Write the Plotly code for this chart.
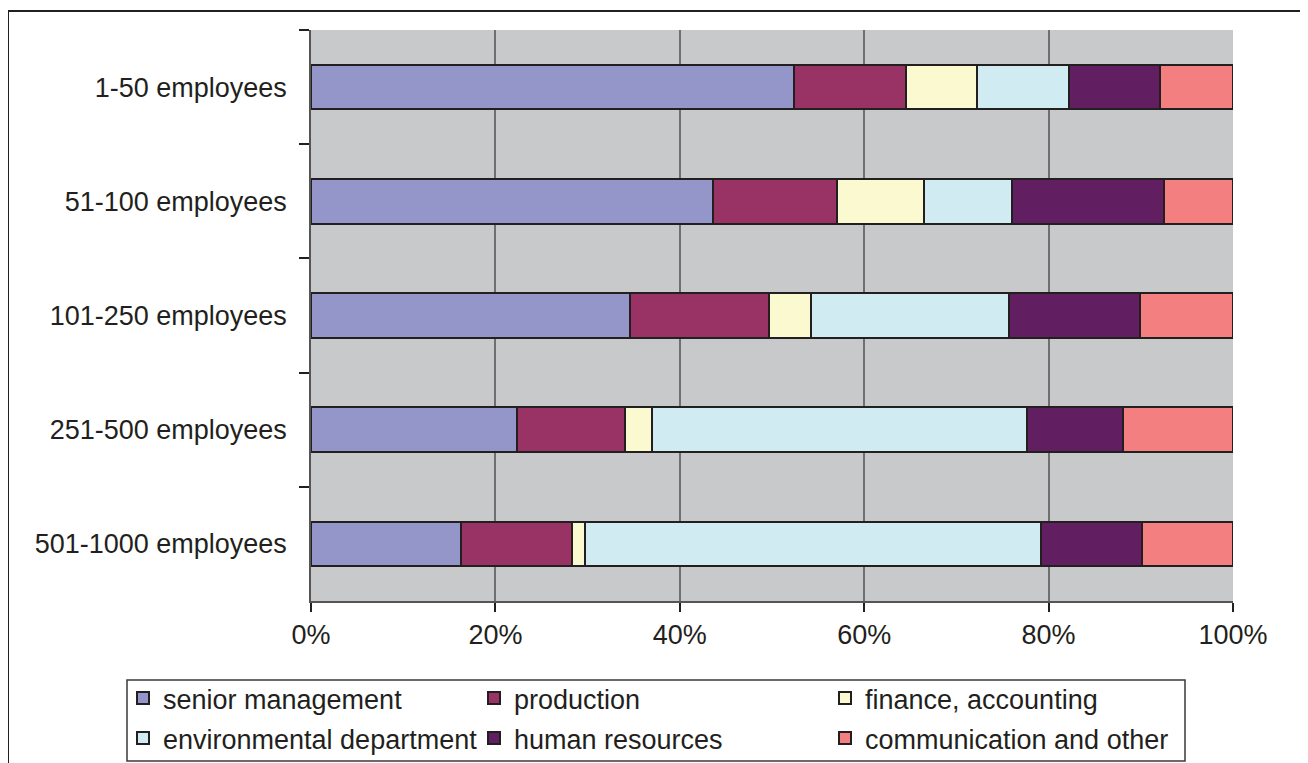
import plotly.graph_objects as go

categories = ["1-50 employees", "51-100 employees", "101-250 employees",
              "251-500 employees", "501-1000 employees"]
series_names = ["senior management", "production", "finance, accounting",
                "environmental department", "human resources", "communication and other"]
senior_management = [52.4, 43.6, 34.6, 22.3, 16.3]
production = [12.1, 13.45, 15.1, 11.8, 12.0]
finance_accounting = [7.7, 9.45, 4.5, 2.9, 1.4]
environmental_department = [10.0, 9.5, 21.5, 40.7, 49.5]
human_resources = [9.9, 16.5, 14.2, 10.4, 10.9]
communication_other = [7.9, 7.5, 10.1, 11.9, 9.9]
tick_values = [0, 20, 40, 60, 80, 100]
tick_labels = ["0%", "20%", "40%", "60%", "80%", "100%"]

series_values = [senior_management, production, finance_accounting,
                 environmental_department, human_resources, communication_other]
colors = ["#9495C8", "#993366", "#FBF9CF", "#D0ECF2", "#611F61", "#F37F80"]

# page has an 8px body margin: figure is drawn at (8, 8)
OFF = 8
W, H = 1300, 755
ML, MR, MT, MB = 303, 75, 22, 162
FONT = "Liberation Sans, Arial, sans-serif"
TXT = "#231F20"
FS = 27

pw = W - ML - MR
ph = H - MT - MB


def px_x(p):  # page pixel -> paper x
    return (p - OFF - ML) / pw


def px_y(p):  # page pixel -> paper y
    return (H - MB + OFF - p) / ph


fig = go.Figure()
for i, (name, vals, col) in enumerate(zip(series_names, series_values, colors)):
    fig.add_trace(go.Bar(
        y=categories, x=vals, name=name, orientation="h",
        marker=dict(color=col, line=dict(color=TXT, width=2)),
        legend="legend" if i < 3 else "legend2",
    ))

shapes = [
    dict(type="rect", xref="paper", yref="paper",
         x0=px_x(8), x1=px_x(1305), y0=px_y(800), y1=px_y(11),
         line=dict(color=TXT, width=2), fillcolor="rgba(0,0,0,0)", layer="below"),
    dict(type="rect", xref="paper", yref="paper",
         x0=px_x(127), x1=px_x(1185), y0=px_y(761), y1=px_y(680),
         line=dict(color="#3a3a3a", width=1.5), fillcolor="rgba(0,0,0,0)"),
]

leg_common = dict(orientation="h", xanchor="left", yanchor="top",
                  entrywidth=306, entrywidthmode="pixels", traceorder="normal",
                  font=dict(family=FONT, size=FS, color=TXT),
                  bgcolor="rgba(0,0,0,0)", borderwidth=0, itemclick=False,
                  itemdoubleclick=False)

fig.update_layout(
    width=W, height=H,
    margin=dict(l=ML, r=MR, t=MT, b=MB, autoexpand=False),
    paper_bgcolor="white", plot_bgcolor="#C8C9CB",
    barmode="stack", barnorm="percent", bargap=0.61,
    font=dict(family=FONT, size=FS, color=TXT),
    showlegend=True,
    legend=dict(x=px_x(123), y=px_y(674), **leg_common),
    legend2=dict(x=px_x(123), y=px_y(714), **leg_common),
    shapes=shapes,
)
fig.update_xaxes(range=[0, 100], tickvals=tick_values, ticktext=tick_labels,
                 showgrid=True, gridcolor="#6F6F70", gridwidth=1.5,
                 zeroline=False, showline=True, linecolor="#555555", linewidth=1.5,
                 ticks="outside", ticklen=9, tickcolor=TXT, tickwidth=1.5,
                 tickfont=dict(size=FS), fixedrange=True)
fig.update_yaxes(categoryorder="array", categoryarray=categories, autorange="reversed",
                 showgrid=False, zeroline=False, showline=True, linecolor="#555555", linewidth=1.5,
                 ticks="outside", tickson="boundaries", ticklen=10, tickcolor=TXT, tickwidth=1.5,
                 tickfont=dict(size=FS), ticklabelstandoff=17, fixedrange=True)

fig.write_html("out.html")
